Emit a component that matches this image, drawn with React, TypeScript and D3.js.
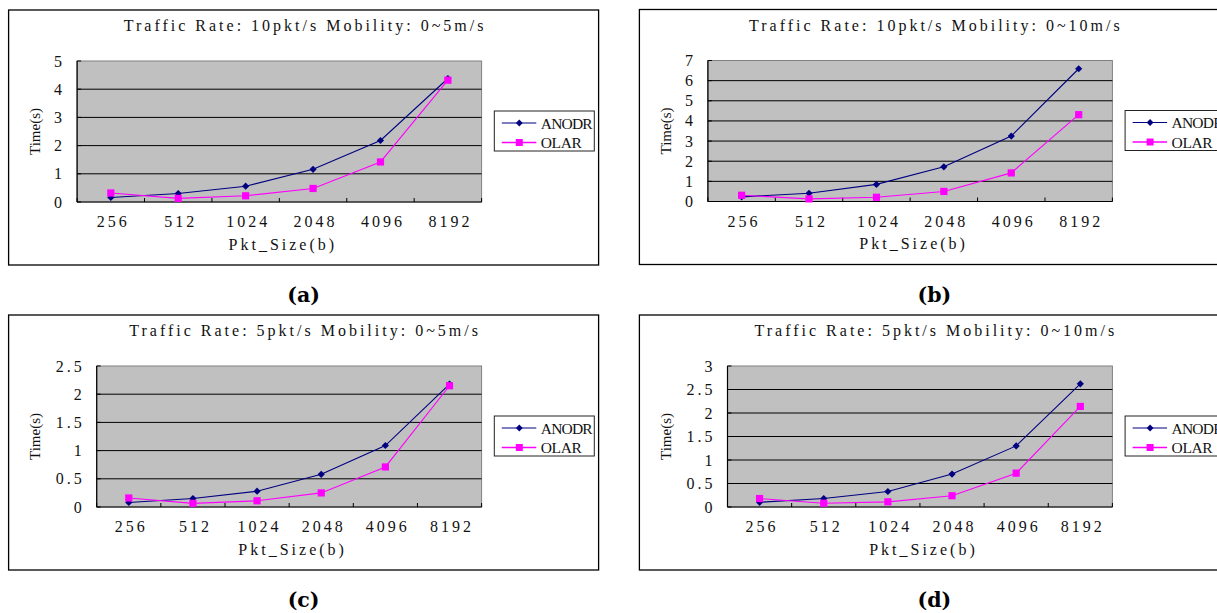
import React from "react";
import * as d3 from "d3";

const categories = ["256", "512", "1024", "2048", "4096", "8192"];

const anodrA = [0.16, 0.3, 0.56, 1.16, 2.18, 4.38];
const olarA = [0.32, 0.13, 0.22, 0.48, 1.42, 4.32];
const anodrB = [0.23, 0.41, 0.85, 1.72, 3.25, 6.59];
const olarB = [0.31, 0.13, 0.21, 0.5, 1.42, 4.31];
const anodrC = [0.08, 0.15, 0.28, 0.58, 1.09, 2.18];
const olarC = [0.16, 0.065, 0.11, 0.25, 0.71, 2.15];
const anodrD = [0.1, 0.18, 0.33, 0.7, 1.3, 2.62];
const olarD = [0.18, 0.08, 0.11, 0.24, 0.72, 2.14];

const ticksA = [0, 1, 2, 3, 4, 5];
const ticksB = [0, 1, 2, 3, 4, 5, 6, 7];
const ticksC = [0, 0.5, 1, 1.5, 2, 2.5];
const ticksD = [0, 0.5, 1, 1.5, 2, 2.5, 3];

const titles = [
  "Traffic Rate: 10pkt/s Mobility: 0~5m/s",
  "Traffic Rate: 10pkt/s Mobility: 0~10m/s",
  "Traffic Rate: 5pkt/s Mobility: 0~5m/s",
  "Traffic Rate: 5pkt/s Mobility: 0~10m/s",
];
const subLabels = ["(a)", "(b)", "(c)", "(d)"];
const seriesNames = ["ANODR", "OLAR"];
const xAxisTitle = "Pkt_Size(b)";
const yAxisTitle = "Time(s)";

const NAVY = "#000080";
const MAGENTA = "#FF00FF";
const SERIF = "'Liberation Serif', 'DejaVu Serif', serif";
const LS = 3;

type PanelProps = {
  fx: number;
  fy: number;
  title: string;
  label: string;
  anodr: number[];
  olar: number[];
  ticks: number[];
};

function Panel({ fx, fy, title, label, anodr, olar, ticks }: PanelProps) {
  const W = 590;
  const H = 255;
  const maxLen = d3.max(ticks, (t) => String(t).length) || 1;
  const plotLeft = 58.7 + 9.8 * maxLen;
  const plotRight = 473;
  const plotTop = 51;
  const plotBottom = 192;
  const x = d3.scaleBand<string>().domain(categories).range([plotLeft, plotRight]);
  const y = d3
    .scaleLinear()
    .domain([0, ticks[ticks.length - 1]])
    .range([plotBottom, plotTop]);
  const cx = (i: number) => (x(categories[i]) as number) + x.bandwidth() / 2;
  const line = d3
    .line<number>()
    .x((_, i) => cx(i))
    .y((v) => y(v));
  const diamond = (px: number, py: number, r: number) =>
    `M${px},${py - r}L${px + r},${py}L${px},${py + r}L${px - r},${py}Z`;
  const boundaries = categories.map((c) => x(c) as number).concat([plotRight]);
  const legX = 485.7;
  const legY = 101;
  const textStyle = { fontFamily: SERIF, fontSize: 16, letterSpacing: LS } as const;

  return (
    <g transform={`translate(${fx},${fy})`}>
      <rect x={0} y={0} width={W} height={H} fill="#fff" stroke="#000" strokeWidth={1.3} />
      <text x={W / 2 + LS / 2} y={21} textAnchor="middle" fill="#111" style={textStyle}>
        {title}
      </text>
      {/* plot area */}
      <rect
        x={plotLeft}
        y={plotTop}
        width={plotRight - plotLeft}
        height={plotBottom - plotTop}
        fill="#C0C0C0"
        stroke="#808080"
        strokeWidth={1}
      />
      {ticks.slice(1, -1).map((t) => (
        <line key={t} x1={plotLeft} x2={plotRight} y1={y(t)} y2={y(t)} stroke="#000" strokeWidth={1} />
      ))}
      {/* axes */}
      <line x1={plotLeft} x2={plotLeft} y1={plotTop} y2={plotBottom} stroke="#000" strokeWidth={1.2} />
      <line x1={plotLeft} x2={plotRight} y1={plotBottom} y2={plotBottom} stroke="#000" strokeWidth={1.2} />
      {ticks.map((t) => (
        <line key={"yt" + t} x1={plotLeft} x2={plotLeft + 4} y1={y(t)} y2={y(t)} stroke="#000" />
      ))}
      {boundaries.map((b, i) => (
        <line key={"xt" + i} x1={b} x2={b} y1={plotBottom} y2={plotBottom - 4} stroke="#000" />
      ))}
      {/* y tick labels */}
      {ticks.map((t) => (
        <text
          key={"yl" + t}
          x={plotLeft - 15 + LS}
          y={y(t) + 5.5}
          textAnchor="end"
          fill="#111"
          style={textStyle}
        >
          {String(t)}
        </text>
      ))}
      {/* x tick labels */}
      {categories.map((c, i) => (
        <text key={"xl" + c} x={cx(i) + 1 + LS / 2} y={217} textAnchor="middle" fill="#111" style={textStyle}>
          {c}
        </text>
      ))}
      <text
        x={(plotLeft + plotRight) / 2 + 2 + LS / 2}
        y={239.5}
        textAnchor="middle"
        fill="#111"
        style={textStyle}
      >
        {xAxisTitle}
      </text>
      <text
        transform={`translate(${26.5 + 5},${(plotTop + plotBottom) / 2}) rotate(-90)`}
        textAnchor="middle"
        fill="#111"
        style={{ fontFamily: SERIF, fontSize: 15 }}
      >
        {yAxisTitle}
      </text>
      {/* series */}
      <path d={line(anodr) || ""} fill="none" stroke={NAVY} strokeWidth={1.1} />
      {anodr.map((v, i) => (
        <path key={"ad" + i} d={diamond(cx(i), y(v), 3.6)} fill={NAVY} />
      ))}
      <path d={line(olar) || ""} fill="none" stroke={MAGENTA} strokeWidth={1.1} />
      {olar.map((v, i) => (
        <rect key={"os" + i} x={cx(i) - 3.6} y={y(v) - 3.6} width={7.2} height={7.2} fill={MAGENTA} />
      ))}
      {/* legend */}
      <rect x={legX} y={legY} width={100} height={40} fill="#fff" stroke="#222" strokeWidth={1} />
      <line x1={legX + 7.5} x2={legX + 42} y1={legY + 12} y2={legY + 12} stroke={NAVY} strokeWidth={1.1} />
      <path d={diamond(legX + 25, legY + 12, 3.4)} fill={NAVY} />
      <text
        x={legX + 46.5}
        y={legY + 17.5}
        fill="#111"
        style={{ fontFamily: SERIF, fontSize: 15.5, letterSpacing: -0.8 }}
      >
        {seriesNames[0]}
      </text>
      <line x1={legX + 7.5} x2={legX + 42} y1={legY + 31.5} y2={legY + 31.5} stroke={MAGENTA} strokeWidth={1.3} />
      <rect x={legX + 21.5} y={legY + 28} width={7} height={7} fill={MAGENTA} />
      <text
        x={legX + 46.5}
        y={legY + 37}
        fill="#111"
        style={{ fontFamily: SERIF, fontSize: 15.5, letterSpacing: -0.4 }}
      >
        {seriesNames[1]}
      </text>
      {/* sub label */}
      <text
        x={W / 2}
        y={H + 37}
        textAnchor="middle"
        fill="#000"
        style={{ fontFamily: "'DejaVu Serif', serif", fontWeight: "bold", fontSize: 20.5 }}
      >
        {label}
      </text>
    </g>
  );
}

export default function App() {
  const panels = [
    { fx: 8.6, fy: 10, anodr: anodrA, olar: olarA, ticks: ticksA },
    { fx: 639.4, fy: 9.5, anodr: anodrB, olar: olarB, ticks: ticksB },
    { fx: 8.6, fy: 315, anodr: anodrC, olar: olarC, ticks: ticksC },
    { fx: 639.4, fy: 315, anodr: anodrD, olar: olarD, ticks: ticksD },
  ];
  return (
    <svg
      width={1217}
      height={613}
      style={{ position: "absolute", left: 0, top: 0, background: "#fff" }}
    >
      {panels.map((p, i) => (
        <Panel key={i} {...p} title={titles[i]} label={subLabels[i]} />
      ))}
    </svg>
  );
}
